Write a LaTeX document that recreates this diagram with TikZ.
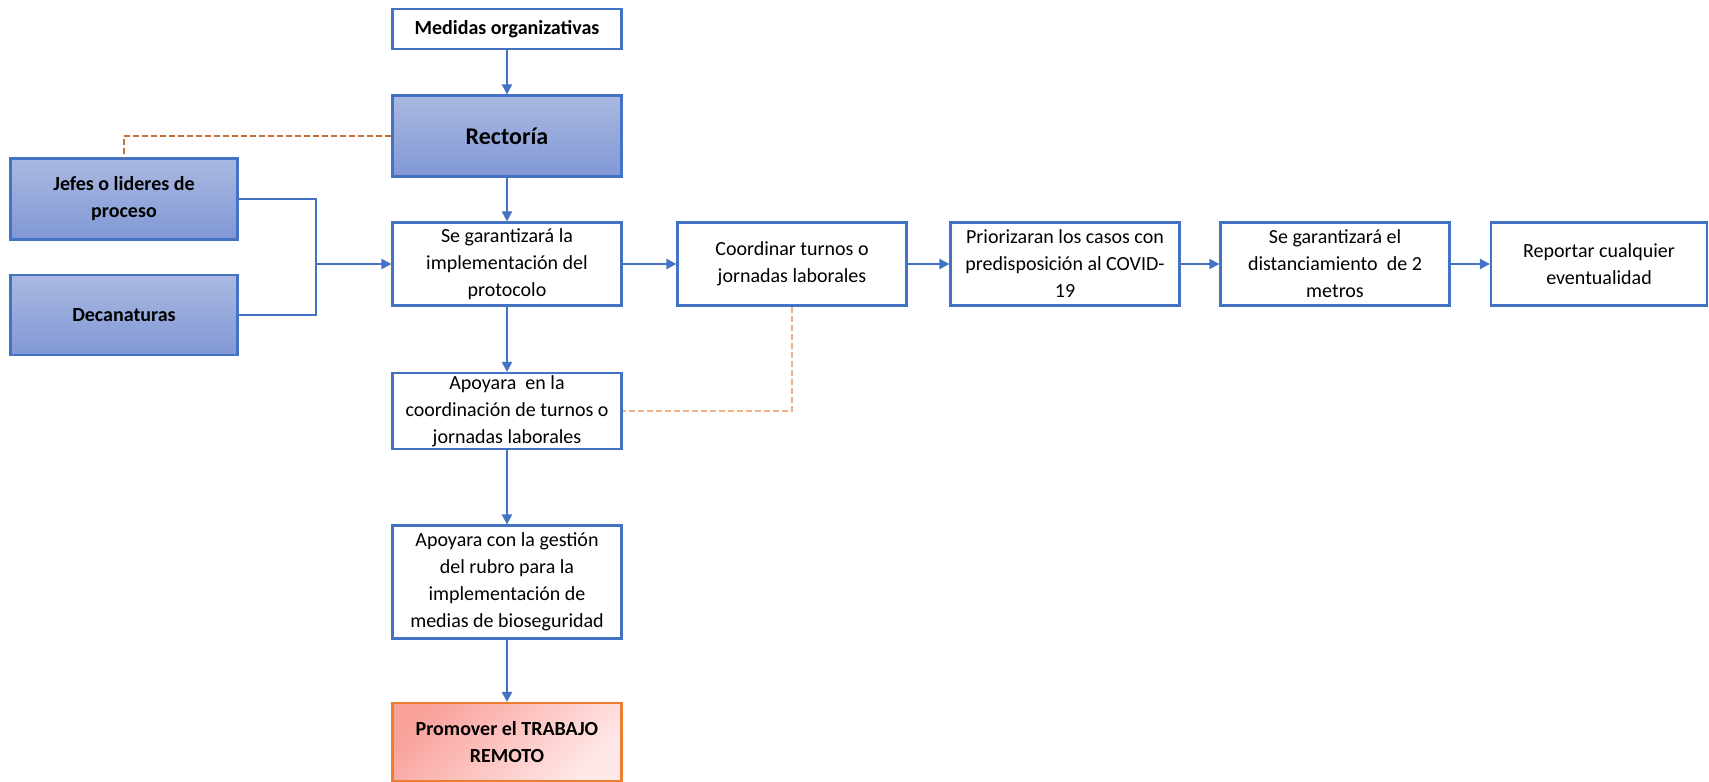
\documentclass[tikz,border=0pt]{standalone}
\usepackage{fontspec}
\setmainfont{Carlito}
\usetikzlibrary{arrows.meta,calc}

\definecolor{lineblue}{HTML}{4472C4}
\definecolor{filltop}{HTML}{AAB9E1}
\definecolor{fillbot}{HTML}{8198D6}
\definecolor{dashbrown}{HTML}{C5703A}
\definecolor{dashlight}{HTML}{F4B183}
\definecolor{promtop}{HTML}{F9A29C}
\definecolor{prombot}{HTML}{FFE8E8}
\definecolor{promedge}{HTML}{ED7D31}

\begin{document}
\begin{tikzpicture}[x=0.5pt,y=-0.5pt,>={Triangle[length=5pt,width=5pt]},
  box/.style={draw=lineblue,line width=1.1pt,fill=white,align=center,inner sep=0pt,
    minimum width=114.5pt,minimum height=41.5pt,font=\fontsize{10}{13.5}\selectfont},
  bluebox/.style={box,top color=filltop,bottom color=fillbot,font=\fontsize{10}{13.5}\selectfont\bfseries},
  link/.style={lineblue,line width=1.1pt},
  flow/.style={link,->},
  dots/.style={line width=1.1pt,dash pattern=on 3pt off 1.5pt}]
  \useasboundingbox (0,0) rectangle (1709,782);
  % top of the chart
  \node[box,minimum height=20pt,font=\fontsize{10}{13.5}\selectfont\bfseries] (medidas) at (507,29) {Medidas organizativas};
  \node[bluebox,minimum height=40.5pt,font=\fontsize{12}{14}\selectfont\bfseries] (rectoria) at (507,136) {Rectoría};
  \node[bluebox,minimum width=113.5pt,minimum height=40.5pt] (jefes) at (124,199) {Jefes o lideres de\\proceso};
  \node[bluebox,minimum width=113.5pt,minimum height=40pt] (decanaturas) at (124,315) {Decanaturas};
  % main row
  \node[box] (garantiza) at (507,264) {Se garantizará la\\implementación del\\protocolo};
  \node[box] (coordinar) at (792,264) {Coordinar turnos o\\jornadas laborales};
  \node[box] (priorizar) at (1065,264) {Priorizaran los casos con\\predisposición al COVID-\\19};
  \node[box] (distancia) at (1335,264) {Se garantizará el\\distanciamiento\ \ de 2\\metros};
  \node[box,minimum width=108pt] (reportar) at (1599,264) {Reportar cualquier\\eventualidad};
  % column below
  \node[box,minimum height=38pt] (apoyoturnos) at (507,411) {Apoyara\ \ en la\\coordinación de turnos o\\jornadas laborales};
  \node[box,minimum height=56.5pt] (apoyorubro) at (507,582) {Apoyara con la gestión\\del rubro para la\\implementación de\\medias de bioseguridad};
  \node[box,draw=promedge,top color=promtop,bottom color=prombot,shading angle=45,
    minimum height=39pt,font=\fontsize{10}{13.5}\selectfont\bfseries] (remoto) at (507,742) {Promover el TRABAJO\\REMOTO};

  \coordinate (junta) at (316,264);
  \draw[flow] (medidas) -- (rectoria);
  \draw[flow] (rectoria) -- (garantiza);
  \draw[link] (jefes.east) -| (junta);
  \draw[link] (decanaturas.east) -| (junta);
  \draw[flow] (junta) -- (garantiza.west);
  \draw[flow] (garantiza) -- (coordinar);
  \draw[flow] (coordinar) -- (priorizar);
  \draw[flow] (priorizar) -- (distancia);
  \draw[flow] (distancia) -- (reportar);
  \draw[flow] (garantiza) -- (apoyoturnos);
  \draw[flow] (apoyoturnos) -- (apoyorubro);
  \draw[flow] (apoyorubro) -- (remoto);
  % dotted links
  \draw[dots,dashbrown] (rectoria.west) -| (jefes.north);
  \draw[dots,dashlight] (coordinar.south) |- (apoyoturnos.east);
\end{tikzpicture}
\end{document}
